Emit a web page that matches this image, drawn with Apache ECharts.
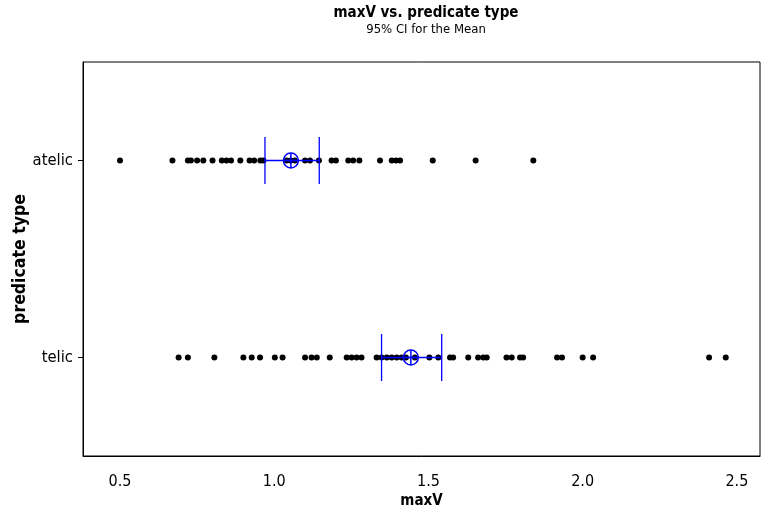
<!DOCTYPE html>
<html>
<head>
<meta charset="utf-8">
<script src="https://cdn.jsdelivr.net/npm/echarts@6/dist/echarts.min.js"></script>
<style>
html,body{margin:0;padding:0;background:#fff;}
#chart{width:763px;height:508px;}
</style>
</head>
<body>
<div id="chart"></div>
<script>
const categories = ['telic', 'atelic'];
const atelicValues = [0.50, 0.67, 0.72, 0.73, 0.75, 0.77, 0.80, 0.83, 0.845, 0.86, 0.89, 0.92, 0.935, 0.955, 0.965,
  1.04, 1.053, 1.067, 1.10, 1.116, 1.145, 1.186, 1.20, 1.24, 1.256, 1.276, 1.343, 1.381, 1.395, 1.408, 1.514, 1.653, 1.84];
const telicValues = [0.69, 0.72, 0.806, 0.90, 0.927, 0.954, 1.002, 1.027, 1.10, 1.121, 1.138, 1.18, 1.235, 1.251, 1.267,
  1.283, 1.332, 1.348, 1.365, 1.381, 1.397, 1.413, 1.427, 1.456, 1.503, 1.532, 1.57, 1.58, 1.629, 1.661, 1.678, 1.689,
  1.753, 1.77, 1.797, 1.807, 1.917, 1.933, 2.0, 2.034, 2.41, 2.464];
const means = [1.443, 1.054];   // telic, atelic
const ciLow = [1.348, 0.97];
const ciHigh = [1.543, 1.146];
const xTicks = [0.5, 1.0, 1.5, 2.0, 2.5];

const FONT = "'DejaVu Sans Condensed', 'DejaVu Sans', sans-serif";
const BLUE = '#0000ff';

const dots = [];
telicValues.forEach(v => dots.push([v, 'telic']));
atelicValues.forEach(v => dots.push([v, 'atelic']));

const ciData = categories.map((c, i) => [ciLow[i], ciHigh[i], c]);
const meanData = categories.map((c, i) => [means[i], c]);

const chart = echarts.init(document.getElementById('chart'), null, {renderer: 'canvas'});
chart.setOption({
  animation: false,
  backgroundColor: '#fff',
  title: {
    text: 'maxV vs. predicate type',
    subtext: '95% CI for the Mean',
    left: 421, textAlign: 'center', top: 1, itemGap: 2,
    textStyle: {fontFamily: FONT, fontSize: 15, fontWeight: 'bold', color: '#000'},
    subtextStyle: {fontFamily: FONT, fontSize: 13, color: '#000'}
  },
  grid: {left: 83, right: 3, top: 62, bottom: 52, show: true, borderColor: '#000', borderWidth: 1,
    containLabel: false, outerBoundsMode: 'none'},
  xAxis: {
    type: 'value', min: 0.38, max: 2.575,
    name: 'maxV', nameLocation: 'middle', nameGap: 38, nameMoveOverlap: false,
    nameTextStyle: {fontFamily: FONT, fontSize: 15, fontWeight: 'bold', color: '#000'},
    axisLine: {show: true, lineStyle: {color: '#000', width: 1}},
    axisTick: {show: false},
    splitLine: {show: false},
    axisLabel: {customValues: xTicks, formatter: v => v.toFixed(1), fontFamily: FONT, fontSize: 16, color: '#000', margin: 18}
  },
  yAxis: {
    type: 'category', data: categories,
    name: 'predicate type', nameLocation: 'middle', nameGap: 54, nameRotate: 90, nameMoveOverlap: false,
    nameTextStyle: {fontFamily: FONT, fontSize: 17.5, fontWeight: 'bold', color: '#000'},
    axisLine: {show: true, lineStyle: {color: '#000', width: 1}},
    axisTick: {show: true, alignWithLabel: true, length: 5, lineStyle: {color: '#000'}},
    splitLine: {show: false},
    axisLabel: {fontFamily: FONT, fontSize: 16.5, color: '#000', margin: 10}
  },
  series: [
    {
      type: 'scatter', data: dots, symbol: 'circle', symbolSize: 6,
      itemStyle: {color: '#000', opacity: 1}, z: 2
    },
    {
      type: 'custom', data: ciData, z: 3,
      encode: {x: [0, 1], y: 2},
      renderItem: function (params, api) {
        const a = api.coord([api.value(0), api.value(2)]);
        const b = api.coord([api.value(1), api.value(2)]);
        const h = 23.5;
        const st = {stroke: BLUE, lineWidth: 1.3};
        return {type: 'group', children: [
          {type: 'line', shape: {x1: a[0], y1: a[1], x2: b[0], y2: b[1]}, style: st},
          {type: 'line', shape: {x1: a[0], y1: a[1] - h, x2: a[0], y2: a[1] + h}, style: st},
          {type: 'line', shape: {x1: b[0], y1: b[1] - h, x2: b[0], y2: b[1] + h}, style: st}
        ]};
      }
    },
    {
      type: 'custom', data: meanData, z: 4,
      encode: {x: 0, y: 1},
      renderItem: function (params, api) {
        const p = api.coord([api.value(0), api.value(1)]);
        const r = 7.5;
        const st = {stroke: BLUE, lineWidth: 1.5, fill: null};
        return {type: 'group', children: [
          {type: 'circle', shape: {cx: p[0], cy: p[1], r: r}, style: {stroke: BLUE, lineWidth: 1.5, fill: 'rgba(0,0,0,0)'}},
          {type: 'line', shape: {x1: p[0], y1: p[1] - r, x2: p[0], y2: p[1] + r}, style: st},
          {type: 'line', shape: {x1: p[0] - r, y1: p[1], x2: p[0] + r, y2: p[1]}, style: st}
        ]};
      }
    }
  ]
});
</script>
</body>
</html>
